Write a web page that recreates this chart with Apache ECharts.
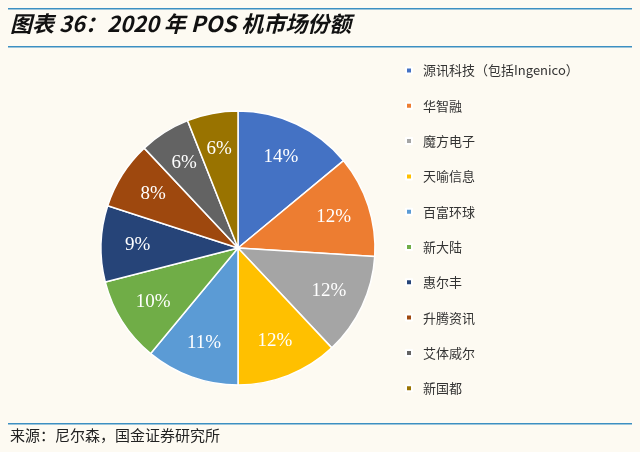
<!DOCTYPE html>
<html lang="zh">
<head>
  <meta charset="UTF-8" />
  <title>2020年POS机市场份额</title>
  <style>
    html, body { margin: 0; padding: 0; background: #fdfaf2; }
    #chart { width: 640px; height: 452px; }
  </style>
</head>
<body>
  <div id="chart"></div>
  <script src="https://cdn.jsdelivr.net/npm/echarts@6/dist/echarts.min.js"></script>
  <script>
    // 数据
    const categories = ['源讯科技（包括Ingenico）', '华智融', '魔方电子', '天喻信息', '百富环球', '新大陆', '惠尔丰', '升腾资讯', '艾体威尔', '新国都'];
    const shares = [14, 12, 12, 12, 11, 10, 9, 8, 6, 6];
    const colors = ['#4472C4', '#ED7D31', '#A5A5A5', '#FFC000', '#5B9BD5', '#70AD47', '#264478', '#9E480E', '#636363', '#997300'];

    const chart = echarts.init(document.getElementById('chart'));
    const lineColor = '#3c8fc2';
    const pieData = categories.map((n, i) => ({ name: n, value: shares[i] }));
    chart.setOption({
      backgroundColor: '#fdfaf2',
      color: colors,
      animation: false,
      graphic: [
        { type: 'rect', shape: { x: 8, y: 8, width: 624, height: 1.5 }, style: { fill: lineColor } },
        { type: 'rect', shape: { x: 8, y: 46, width: 624, height: 1.5 }, style: { fill: lineColor } },
        { type: 'rect', shape: { x: 8, y: 423, width: 624, height: 1.5 }, style: { fill: lineColor } },
        { type: 'text', left: 10, top: 13, style: { text: '图表 36：2020 年 POS 机市场份额', font: 'italic bold 22px "Noto Sans CJK SC", sans-serif', fill: '#111' } },
        { type: 'text', left: 10, top: 428, style: { text: '来源：尼尔森，国金证券研究所', font: '15px "Noto Sans CJK SC", serif', fill: '#222' } }
      ],
      legend: {
        orient: 'vertical',
        left: 400,
        top: 59,
        itemGap: 22.3,
        itemWidth: 6,
        itemHeight: 6,
        icon: 'rect',
        data: categories,
        textStyle: { fontSize: 13, color: '#333', fontFamily: '"Noto Sans CJK SC", serif', padding: [0, 0, 0, 6] }
      },
      series: [{
        type: 'pie',
        center: [238, 248],
        radius: [0, 137],
        startAngle: 90,
        clockwise: true,
        data: pieData,
        itemStyle: { borderColor: '#fff', borderWidth: 1.5 },
        label: { show: false },
        labelLine: { show: false }
      }, {
        // 仅用于放置百分比标签
        type: 'pie',
        center: [238, 248],
        radius: [58, 137],
        startAngle: 90,
        clockwise: true,
        silent: true,
        data: pieData,
        itemStyle: { color: 'rgba(0,0,0,0)' },
        label: {
          position: 'inside',
          formatter: '{c}%',
          color: '#fff',
          fontSize: 19,
          fontFamily: '"Liberation Serif", "DejaVu Serif", serif'
        },
        labelLine: { show: false }
      }]
    });
  </script>
</body>
</html>
